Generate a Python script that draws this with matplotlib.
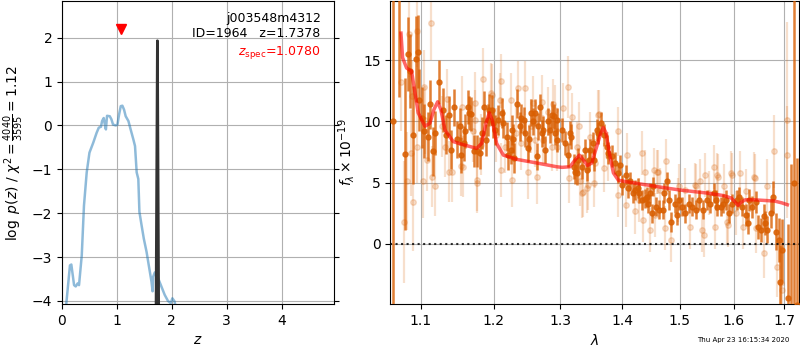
import numpy as np
import matplotlib.pyplot as plt
from matplotlib.ticker import NullLocator

# p(z) curves
z_phot = [0.06, 0.145, 0.17, 0.22, 0.25, 0.285, 0.31, 0.36, 0.40, 0.45, 0.50, 0.57, 0.63,
          0.67, 0.71, 0.73, 0.76, 0.79, 0.80, 0.82, 0.87, 0.90, 0.93, 0.98, 1.01, 1.04,
          1.07, 1.10, 1.13, 1.16, 1.21, 1.25, 1.30, 1.33, 1.36, 1.39, 1.41, 1.45, 1.49,
          1.54, 1.59, 1.63, 1.65, 1.66, 1.69, 1.75, 1.81, 1.87, 1.93, 1.98, 2.01, 2.05, 2.08]
logp_phot = [-4.3, -3.19, -3.17, -3.64, -3.67, -3.6, -3.64, -2.96, -1.83, -1.07, -0.62, -0.39,
             -0.17, -0.05, -0.03, 0.10, 0.17, -0.05, -0.09, 0.22, 0.21, 0.14, 0.02, 0.0, 0.02,
             0.25, 0.44, 0.45, 0.36, 0.21, 0.10, -0.09, -0.32, -0.47, -1.07, -1.22, -1.97,
             -2.28, -2.58, -2.88, -3.26, -3.56, -3.78, -3.45, -3.35, -3.48, -3.67, -3.86,
             -4.0, -4.05, -3.94, -4.01, -4.2]
z_grism = [1.712, 1.7378, 1.762]
logp_grism = [-4.6, 1.93, -4.6]
z_best = 1.7378
z_spec = 1.0780

# binned spectrum (um, 1e-19 flux)
wave_a = [1.0638, 1.0710, 1.0794, 1.0825, 1.0856, 1.0899, 1.0935, 1.0957, 1.0977, 1.1013,
          1.1044, 1.1088, 1.1123, 1.1155, 1.1189, 1.1242, 1.1288, 1.1334, 1.1380, 1.1403,
          1.1443, 1.1488, 1.1526, 1.1545, 1.1584, 1.1600, 1.1642, 1.1655, 1.1683, 1.1721,
          1.1768, 1.1802, 1.1830, 1.1863, 1.1895, 1.1915, 1.1929, 1.1972, 1.1991, 1.2019,
          1.2063, 1.2117, 1.2136, 1.2190, 1.2209, 1.2249, 1.2263, 1.2282, 1.2302, 1.2346,
          1.2380, 1.2404, 1.2445, 1.2464, 1.2500, 1.2515, 1.2546, 1.2580, 1.2610, 1.2641,
          1.2661, 1.2681, 1.2712, 1.2733, 1.2768, 1.2804, 1.2835, 1.2870, 1.2901, 1.2917,
          1.2942, 1.2952, 1.3020, 1.3071, 1.3123, 1.3150, 1.3161, 1.3213, 1.3229, 1.3256,
          1.3283, 1.3336, 1.3389, 1.3417, 1.3458, 1.3469, 1.3523, 1.3540, 1.3577, 1.3594,
          1.3643, 1.3702, 1.3752, 1.3768, 1.3825, 1.3880, 1.3935, 1.3962, 1.3992, 1.4064,
          1.4102, 1.4130, 1.4186, 1.4220, 1.4271, 1.4288, 1.4334, 1.4385, 1.4420, 1.4444,
          1.4478, 1.4507, 1.4530, 1.4577, 1.4635, 1.4706, 1.4712, 1.4771, 1.4801, 1.4847,
          1.4908, 1.4943, 1.4980, 1.5040, 1.5099, 1.5160, 1.5220, 1.5293, 1.5354, 1.5416,
          1.5495, 1.5557, 1.5620, 1.5659, 1.5681, 1.5752, 1.5802, 1.5847, 1.5910, 1.5974,
          1.6057, 1.6102, 1.6166, 1.6233, 1.6283, 1.6296, 1.6360, 1.6427, 1.6478, 1.6526,
          1.6592, 1.6611, 1.6658, 1.6725, 1.6778, 1.6826, 1.6892, 1.6912, 1.6960, 1.7075,
          1.7143, 1.7197, 1.7260]
flux_a = [10.0, 24.0, 7.35, 15.5, 14.1, 8.9, 15.1, 15.7, 11.75, 10.3,
          9.25, 8.75, 11.4, 7.55, 9.05, 13.25, 10.95, 8.9, 10.5, 7.7,
          11.15, 8.55, 9.6, 7.25, 8.2, 9.2, 11.2, 10.7, 10.6, 7.55,
          7.55, 7.4, 9.05, 11.15, 8.5, 10.1, 10.95, 10.95, 9.85, 9.3,
          10.1, 10.7, 9.85, 8.75, 7.25, 7.7, 9.3, 8.6, 7.0, 11.45,
          9.6, 10.25, 10.1, 9.05, 7.8, 8.6, 10.7, 10.0, 10.7, 7.15,
          9.6, 11.15, 9.05, 9.3, 7.7, 10.0, 9.3, 10.55, 10.4, 9.05,
          8.5, 10.1, 9.3, 8.25, 7.25, 9.05, 8.75, 6.3, 5.9, 5.8,
          6.85, 6.3, 7.7, 6.05, 6.85, 7.7, 8.25, 6.85, 9.3, 9.05,
          9.85, 8.9, 7.95, 7.4, 7.15, 6.6, 5.8, 6.45, 4.8, 5.65,
          4.55, 5.1, 4.15, 4.4, 4.55, 4.15, 3.6, 3.7, 3.85, 3.3,
          4.15, 2.5, 4.7, 3.05, 2.8, 2.8, 4.15, 5.1, 3.6, 1.8,
          3.3, 2.35, 3.6, 3.05, 2.5, 3.3, 3.05, 2.8, 3.6, 2.8,
          3.6, 3.3, 4.15, 3.6, 3.05, 3.05, 3.3, 3.6, 2.5, 3.3,
          3.6, 3.85, 3.05, 2.35, 1.7, 3.6, 3.05, 3.45, 1.4, 1.15,
          2.25, 1.7, 1.15, 2.5, 3.85, 1.0, 0.3, -3.1, -0.5, -4.4,
          -8.0, 5.0, -5.0]
err_a = [30, 12, 6.2, 3.0, 3.0, 4.0, 3.5, 3.0, 2.5, 2.5,
         2.2, 2.0, 2.0, 2.0, 1.8, 1.8, 1.8, 1.6, 1.6, 1.6,
         1.5, 1.5, 1.5, 1.5, 1.4, 1.4, 1.4, 1.4, 1.4, 1.3,
         1.3, 1.3, 1.3, 1.3, 1.3, 1.3, 1.3, 1.2, 1.2, 1.2,
         1.2, 1.2, 1.2, 1.2, 1.2, 1.2, 1.2, 1.2, 1.2, 1.2,
         1.2, 1.2, 1.1, 1.1, 1.1, 1.1, 1.1, 1.1, 1.1, 1.1,
         1.1, 1.1, 1.1, 1.1, 1.1, 1.1, 1.1, 1.1, 1.0, 1.0,
         1.0, 1.0, 1.0, 1.0, 1.0, 1.0, 1.0, 1.0, 1.0, 1.0,
         1.0, 1.0, 0.9, 0.9, 0.9, 0.9, 0.9, 0.9, 0.9, 0.9,
         0.9, 0.9, 0.9, 0.9, 0.9, 0.9, 0.8, 0.8, 0.8, 0.8,
         0.8, 0.8, 0.8, 0.8, 0.8, 0.8, 0.8, 0.8, 0.8, 0.8,
         0.8, 0.8, 0.8, 0.8, 0.8, 0.8, 0.8, 0.8, 0.8, 0.8,
         0.8, 0.8, 0.8, 0.8, 0.8, 0.8, 0.8, 0.8, 0.8, 0.8,
         0.8, 0.8, 0.8, 0.8, 0.8, 0.8, 0.8, 0.8, 0.8, 0.8,
         0.8, 0.8, 0.8, 0.9, 0.9, 0.9, 0.9, 0.9, 1.0, 1.0,
         1.0, 1.0, 1.1, 1.2, 1.3, 1.5, 1.8, 3.0, 2.5, 6.0,
         14.5, 30, 12]

# unbinned spectrum
wave_b = [1.0735, 1.0777, 1.0813, 1.0847, 1.0868, 1.0877, 1.0891, 1.0947, 1.0951, 1.1022,
          1.1044, 1.1053, 1.1083, 1.1132, 1.1150, 1.1189, 1.1279, 1.1321, 1.1348, 1.1380,
          1.1417, 1.1540, 1.1549, 1.1571, 1.1707, 1.1730, 1.1735, 1.1759, 1.1768, 1.1816,
          1.1849, 1.1958, 1.1972, 1.2039, 1.2092, 1.2105, 1.2111, 1.2160, 1.2257, 1.2262,
          1.2331, 1.2356, 1.2404, 1.2455, 1.2505, 1.2555, 1.2580, 1.2610, 1.2645, 1.2712,
          1.2738, 1.2808, 1.2866, 1.2880, 1.2917, 1.2942, 1.3047, 1.3123, 1.3139, 1.3176,
          1.3256, 1.3298, 1.3309, 1.3336, 1.3352, 1.3426, 1.3432, 1.3463, 1.3528, 1.3554,
          1.3604, 1.3620, 1.3697, 1.3768, 1.3925, 1.3934, 1.4064, 1.4075, 1.4215, 1.4277,
          1.4330, 1.4346, 1.4391, 1.4473, 1.4536, 1.4565, 1.4589, 1.4612, 1.4653, 1.4730,
          1.4759, 1.4847, 1.4972, 1.4980, 1.5099, 1.5189, 1.5275, 1.5287, 1.5372, 1.5403,
          1.5434, 1.5458, 1.5527, 1.5620, 1.5646, 1.5687, 1.5705, 1.5815, 1.5876, 1.5897,
          1.5954, 1.5961, 1.6038, 1.6121, 1.6185, 1.6233, 1.6394, 1.6413, 1.6427, 1.6592,
          1.6658, 1.6792, 1.6858, 1.6926, 1.6960, 1.7055, 1.7061]
flux_b = [13.2, 1.8, 5.1, 17.1, 7.4, 12.05, 3.45, 17.4, 7.95, 5.1,
          12.8, 10.1, 6.85, 18.0, 5.5, 4.75, 9.6, 7.95, 11.8, 5.9,
          5.9, 6.4, 11.2, 6.3, 9.2, 11.5, 10.1, 5.2, 5.0, 8.1,
          13.45, 12.3, 12.15, 8.9, 11.75, 6.05, 13.3, 7.95, 11.75, 5.2,
          9.05, 12.7, 8.25, 12.7, 5.9, 9.6, 11.5, 8.5, 5.5, 11.6,
          8.5, 10.8, 7.95, 11.45, 10.95, 7.95, 11.1, 12.8, 5.35, 10.35,
          7.95, 9.6, 5.1, 4.15, 4.2, 4.55, 4.8, 8.75, 5.0, 6.6,
          10.55, 10.6, 6.2, 7.15, 4.0, 9.2, 3.2, 7.25, 2.65, 3.6,
          7.4, 1.95, 5.9, 1.15, 6.05, 2.35, 5.9, 5.85, 4.4, 1.3,
          6.8, 0.3, 3.6, 4.7, 4.4, 1.4, 4.8, 4.7, 5.1, 1.15,
          0.75, 5.65, 4.15, 6.3, 1.4, 5.65, 5.5, 4.7, 1.8, 1.55,
          5.8, 5.65, 2.5, 5.8, 1.4, 4.3, 5.5, 5.35, 1.3, -0.75,
          4.7, 7.55, -1.85, -3.2, -3.75, 7.25, 10.1]
err_b = [4, 5, 4, 3.5, 3.5, 3, 4, 3, 3, 3,
         3, 2.8, 2.5, 3, 2.5, 2.5, 2.5, 2.5, 2.5, 2.5,
         2.5, 2.5, 2.5, 2.5, 2.5, 2.5, 2.5, 2.5, 2.5, 2.5,
         2.5, 2.5, 2.5, 2.2, 2.2, 2.2, 2.2, 2.2, 2.2, 2.2,
         2.2, 2.2, 2.2, 2.2, 2.2, 2.2, 2.2, 2.2, 2.2, 2.2,
         2.0, 2.0, 2.0, 2.0, 2.0, 2.0, 2.0, 2.5, 2.0, 2.0,
         2.0, 2.0, 2.0, 2.0, 2.0, 2.0, 2.0, 2.0, 2.0, 2.0,
         2.0, 2.0, 2.0, 2.0, 1.8, 2.0, 1.8, 1.8, 1.8, 1.8,
         1.8, 1.8, 1.8, 1.8, 1.8, 1.8, 1.8, 1.8, 1.8, 1.8,
         1.8, 1.8, 1.8, 1.8, 1.8, 1.8, 1.8, 1.8, 1.8, 1.8,
         1.8, 1.8, 1.8, 1.8, 1.8, 1.8, 1.8, 1.8, 1.8, 1.8,
         1.8, 1.8, 1.8, 1.8, 1.8, 1.8, 2.0, 2.0, 2.0, 2.0,
         2.2, 3.0, 2.5, 3.0, 3.0, 4, 8]

# best-fit model
wave_m = [1.0740, 1.0761, 1.0813, 1.0877, 1.0964, 1.1053, 1.1119, 1.1172, 1.1222, 1.1266,
          1.1321, 1.1434, 1.1571, 1.1759, 1.1830, 1.1891, 1.1938, 1.1981, 1.2044, 1.2141,
          1.2339, 1.2643, 1.2942, 1.3026, 1.3150, 1.3229, 1.3298, 1.3362, 1.3426, 1.3497,
          1.3578, 1.3644, 1.3686, 1.3731, 1.3785, 1.3851, 1.3934, 1.4046, 1.4232, 1.4705,
          1.5000, 1.5500, 1.5800, 1.5950, 1.6030, 1.6080, 1.6140, 1.6220, 1.6400, 1.6600,
          1.6800, 1.6950, 1.7060]
flux_m = [17.2, 15.2, 14.35, 14.1, 10.7, 9.6, 9.85, 10.95, 11.6, 10.95,
          9.3, 8.35, 8.1, 7.8, 8.2, 9.85, 10.7, 10.1, 8.2, 7.25,
          6.9, 6.6, 6.3, 6.25, 6.3, 6.85, 7.25, 6.85, 6.4, 6.6,
          7.95, 9.05, 9.5, 9.05, 7.4, 5.8, 5.2, 5.1, 4.95, 4.6,
          4.4, 4.15, 3.95, 3.75, 3.4, 3.15, 3.4, 3.6, 3.6, 3.55,
          3.5, 3.35, 3.2]

lam_ticks = [1.1, 1.2, 1.3, 1.4, 1.5, 1.6, 1.7]

fig = plt.figure(figsize=(8, 3.5), dpi=100)
ax1 = fig.add_axes([0.0775, 0.1314, 0.3404, 0.8649])
ax2 = fig.add_axes([0.4879, 0.1314, 0.5109, 0.8649])

ax1.plot(z_phot, logp_phot, color='tab:blue', alpha=0.5, lw=1.8)
ax1.plot(z_grism, logp_grism, color='0.2', lw=2)
ax1.plot(z_spec, 2.2, 'v', color='r', ms=7)
ax1.text(0.95, 0.965, 'j003548m4312\nID=1964   z=%.4f' % z_best, transform=ax1.transAxes,
         ha='right', va='top', fontsize=9)
ax1.text(0.95, 0.83, r'$z_\mathrm{spec}$=%.4f' % z_spec, transform=ax1.transAxes,
         ha='right', va='center', fontsize=9, color='r')
ax1.set_xlim(0, 4.96)
ax1.set_ylim(-4.07, 2.83)
ax1.set_xticks([0, 1, 2, 3, 4])
ax1.set_yticks([-4, -3, -2, -1, 0, 1, 2])
ax1.tick_params(right=True)
ax1.grid()
ax1.set_xlabel('$z$')
ax1.set_ylabel(r'$\log\ p(z)$ / $\chi^2=\frac{4040}{3595}=1.12$')

ax2.errorbar(wave_b, flux_b, yerr=err_b, fmt='o', color='#d95f02', alpha=0.2,
             ms=4, elinewidth=1.6, zorder=2)
ax2.errorbar(wave_a, flux_a, yerr=err_a, fmt='o', color='#d95f02', alpha=0.8,
             ms=3.6, elinewidth=1.8, zorder=3)
ax2.plot(wave_m, flux_m, color='r', alpha=0.6, lw=2.5, zorder=4)
ax2.axhline(0, color='k', linestyle=':', lw=1.5, alpha=0.8, zorder=5)
ax2.set_xscale('log')
ax2.set_xticks(lam_ticks)
ax2.set_xticklabels(['%.1f' % l for l in lam_ticks])
ax2.xaxis.set_minor_locator(NullLocator())
ax2.set_xlim(1.0604, 1.730)
ax2.set_ylim(-4.9, 19.8)
ax2.set_yticks([0, 5, 10, 15])
ax2.grid()
ax2.set_xlabel(r'$\lambda$')
ax2.set_ylabel(r'$f_\lambda \times 10^{-19}$')

fig.text(0.987, 0.022, 'Thu Apr 23 16:15:34 2020', fontsize=5, ha='right')

fig.savefig('out.png', dpi=100)
